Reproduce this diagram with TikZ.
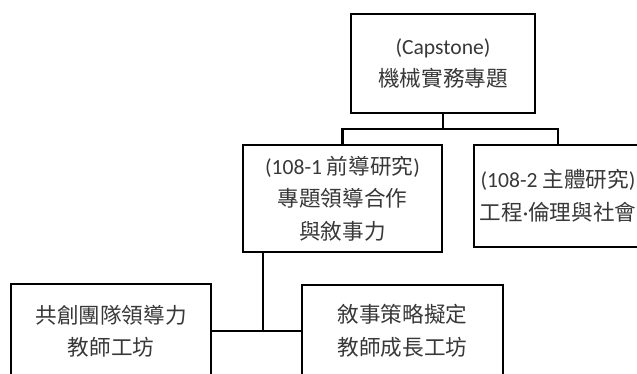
\documentclass[tikz,border=0pt]{standalone}
\usepackage{fontspec}
\setmainfont{Carlito}
\newfontfamily\cjk{Noto Sans CJK TC}
\begin{document}
\begin{tikzpicture}[x=1pt,y=-1pt,
  box/.style={draw=black, line width=2.6pt, align=center, inner sep=0pt,
    text=black!78, font=\fontsize{21.6}{32.5}\selectfont},
  link/.style={draw=black, line width=2.6pt}]
\useasboundingbox (0,0) rectangle (637,374);
\clip (0,0) rectangle (637,374);
\node[box, minimum width=184pt, minimum height=99pt] (top) at (443,63.5)
  {(Capstone)\\{\cjk 機械實務專題}};
\node[box, minimum width=199pt, minimum height=107pt] (ml) at (342.5,198.5)
  {(108-1 {\cjk 前導研究})\\{\cjk 專題領導合作}\\{\cjk 與敘事力}};
\node[box, minimum width=168pt, minimum height=102pt] (rt) at (558,196)
  {(108-2 {\cjk 主體研究})\\{\cjk 工程}·{\cjk 倫理與社會}};
\node[box, minimum width=200pt, minimum height=94pt] (bl) at (111,331)
  {{\cjk 共創團隊領導力}\\{\cjk 教師工坊}};
\node[box, minimum width=201pt, minimum height=92pt] (br) at (402.5,331)
  {{\cjk 敘事策略擬定}\\{\cjk 教師成長工坊}};
\coordinate (j1) at (443,129);
\coordinate (j2) at (263,331);
\draw[link] (top.south) -- (j1);
\draw[link] (ml.north) |- (j1) -| (rt.north);
\draw[link] (ml.south -| j2) -- (j2);
\draw[link] (bl.east) -- (br.west);
\end{tikzpicture}
\end{document}
